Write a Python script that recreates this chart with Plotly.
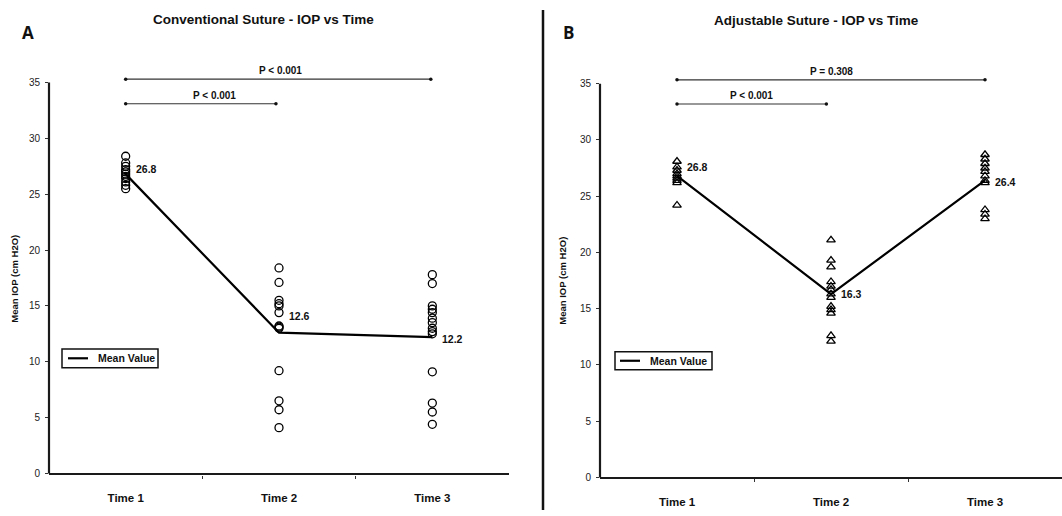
import plotly.graph_objects as go

# ---------------- data ----------------
categories = ["Time 1", "Time 2", "Time 3"]
cat_pos = [0, 1, 2]

conv_t1 = [28.4, 27.8, 27.5, 27.2, 27.0, 26.8, 26.6, 26.4, 26.1, 25.8, 25.5]
conv_t2 = [18.4, 17.1, 15.5, 15.2, 15.0, 14.4, 13.2, 13.1, 13.0, 9.2, 6.5, 5.7, 4.1]
conv_t3 = [17.8, 17.0, 15.0, 14.7, 14.4, 13.9, 13.5, 13.0, 12.7, 12.5, 9.1, 6.3, 5.5, 4.4]
conv_mean = [26.8, 12.6, 12.2]

adj_t1 = [28.1, 27.6, 27.3, 27.0, 26.8, 26.6, 26.4, 26.2, 24.2]
adj_t2 = [21.1, 19.3, 18.7, 17.4, 17.0, 16.7, 16.3, 16.0, 15.2, 14.9, 14.6, 12.6, 12.1]
adj_t3 = [28.7, 28.3, 27.9, 27.5, 27.2, 26.8, 26.4, 26.2, 23.8, 23.4, 23.0]
adj_mean = [26.8, 16.3, 26.4]

mean_label_offset_conv = [0.5, 1.5, -0.2]
mean_label_offset_adj = [0.8, 0.0, -0.1]

# significance brackets: (x_start, x_end, y, label, label_x)
conv_brackets = [(0.0, 0.98, 33.1, "P < 0.001", 0.58), (0.0, 1.99, 35.3, "P < 0.001", 1.01)]
adj_brackets = [(0.0, 0.97, 33.2, "P < 0.001", 0.485), (0.0, 2.0, 35.35, "P = 0.308", 1.0)]

y_ticks = [0, 5, 10, 15, 20, 25, 30, 35]
y_max_axis = 35
y_range = [0, 38]
legend_label = "Mean Value"

FONT = "Arial, 'Liberation Sans', sans-serif"
W, H = 1062, 516

# panel geometry (paper coords)
left_x = [49 / W, 509 / W]
right_x = [600 / W, 1.0]
left_y = [(H - 479) / H, (H - 49.6) / H]
right_y = [(H - 483) / H, (H - 50.6) / H]

fig = go.Figure()

def add_panel(xa, ya, groups, means, symbol, size, offsets):
    for pos, vals in zip(cat_pos, groups):
        fig.add_trace(go.Scatter(
            x=[pos] * len(vals), y=vals, mode="markers", xaxis=xa, yaxis=ya,
            marker=dict(symbol=symbol, size=size, color="black",
                        line=dict(color="black", width=1.3)),
            showlegend=False, hoverinfo="y"))
    fig.add_trace(go.Scatter(
        x=cat_pos, y=means, mode="lines", xaxis=xa, yaxis=ya,
        line=dict(color="black", width=2.2), name=legend_label, showlegend=False))
    for pos, m, off in zip(cat_pos, means, offsets):
        fig.add_annotation(x=pos, y=m + off, xref=xa, yref=ya, text="<b>%.1f</b>" % m,
                           showarrow=False, xanchor="left", yanchor="middle", xshift=8,
                           font=dict(family=FONT, size=10.5, color="#111"))

def add_brackets(xa, ya, brackets):
    for x0, x1, y, label, lx in brackets:
        fig.add_trace(go.Scatter(
            x=[x0, x1], y=[y, y], mode="lines+markers", xaxis=xa, yaxis=ya,
            line=dict(color="#333", width=1.2), marker=dict(size=3.5, color="#111"),
            showlegend=False, hoverinfo="skip"))
        fig.add_annotation(x=lx, y=y, xref=xa, yref=ya, text="<b>%s</b>" % label,
                           showarrow=False, xanchor="center", yanchor="bottom", yshift=1,
                           font=dict(family=FONT, size=10, color="#111"))

add_panel("x", "y", [conv_t1, conv_t2, conv_t3], conv_mean, "circle-open", 8, mean_label_offset_conv)
add_panel("x2", "y2", [adj_t1, adj_t2, adj_t3], adj_mean, "triangle-up-open", 7.5, mean_label_offset_adj)
add_brackets("x", "y", conv_brackets)
add_brackets("x2", "y2", adj_brackets)

def xaxis_cfg(domain, anchor):
    return dict(domain=domain, anchor=anchor, range=[-0.5, 2.5], tickmode="array",
                tickvals=cat_pos, ticktext=["<b>%s</b>" % c for c in categories],
                ticks="", showline=True, linecolor="#1a1a1a", linewidth=2.2,
                showgrid=False, zeroline=False, ticklabelstandoff=13,
                tickfont=dict(family=FONT, size=11.5, color="#111"),
                minor=dict(tickmode="array", tickvals=[0.5, 1.5], ticks="outside",
                           ticklen=3, tickwidth=1.2, tickcolor="#333", showgrid=False),
                fixedrange=True)

def yaxis_cfg(domain, anchor):
    return dict(domain=domain, anchor=anchor, range=y_range, tickmode="array",
                tickvals=y_ticks, ticks="outside", ticklen=3, tickwidth=1.2,
                tickcolor="#333", showline=False, showgrid=False, zeroline=False,
                ticklabelstandoff=3,
                tickfont=dict(family=FONT, size=10, color="#222"), fixedrange=True)

fig.update_layout(
    width=W, height=H, margin=dict(l=0, r=0, t=0, b=0),
    paper_bgcolor="white", plot_bgcolor="white",
    xaxis=xaxis_cfg(left_x, "y"), yaxis=yaxis_cfg(left_y, "x"),
    xaxis2=xaxis_cfg(right_x, "y2"), yaxis2=yaxis_cfg(right_y, "x2"),
    showlegend=False,
)

def px_x(v):
    return v / W

def px_y(v):
    return (H - v) / H

# y axis lines (only up to 35)
for xd, yd in [(left_x, left_y), (right_x, right_y)]:
    top = yd[0] + (y_max_axis / y_range[1]) * (yd[1] - yd[0])
    fig.add_shape(type="line", xref="paper", yref="paper", x0=xd[0], x1=xd[0],
                  y0=yd[0], y1=top, line=dict(color="#1a1a1a", width=2.2))

# legend boxes (drawn as box + sample line + label)
for (bx0, bx1, by0, by1, lx0, lx1, tx) in [(62, 158, 353, 372, 68, 88, 96),
                                           (615, 712, 356, 374, 620, 640, 648)]:
    fig.add_shape(type="rect", xref="paper", yref="paper", x0=px_x(bx0), x1=px_x(bx1),
                  y0=px_y(by1), y1=px_y(by0), line=dict(color="#111", width=1.5),
                  fillcolor="white")
    ym = (by0 + by1) / 2
    fig.add_shape(type="line", xref="paper", yref="paper", x0=px_x(lx0), x1=px_x(lx1),
                  y0=px_y(ym), y1=px_y(ym), line=dict(color="black", width=2.2))
    fig.add_annotation(x=px_x(tx), y=px_y(ym), xref="paper", yref="paper",
                       text="<b>%s</b>" % legend_label, showarrow=False,
                       xanchor="left", yanchor="middle",
                       font=dict(family=FONT, size=10.5, color="#111"))

# separator line
fig.add_shape(type="line", xref="paper", yref="paper", x0=px_x(543), x1=px_x(543),
              y0=0, y1=px_y(10), line=dict(color="#111", width=2.5))

# titles and panel letters
for text, cx, cy, fam, sz in [("Conventional Suture - IOP vs Time", 263, 20, FONT, 13.5),
                              ("Adjustable Suture - IOP vs Time", 816, 21, FONT, 13.5),
                              ("A", 28, 33, "'Open Sans', sans-serif", 17),
                              ("B", 568, 33, "'Open Sans', sans-serif", 17)]:
    fig.add_annotation(x=px_x(cx), y=px_y(cy), xref="paper", yref="paper",
                       text="<b>%s</b>" % text, showarrow=False,
                       xanchor="center", yanchor="middle",
                       font=dict(family=fam, size=sz, color="#111"))

# y-axis titles
for cx, cy in [(15, 282), (563, 284)]:
    fig.add_annotation(x=px_x(cx), y=px_y(cy), xref="paper", yref="paper",
                       text="<b>Mean IOP (cm H2O)</b>", showarrow=False, textangle=-90,
                       xanchor="center", yanchor="middle",
                       font=dict(family=FONT, size=9.5, color="#111"))

fig.write_html("out.html", config={"displayModeBar": False},
               post_script="document.body.style.margin='0';")
